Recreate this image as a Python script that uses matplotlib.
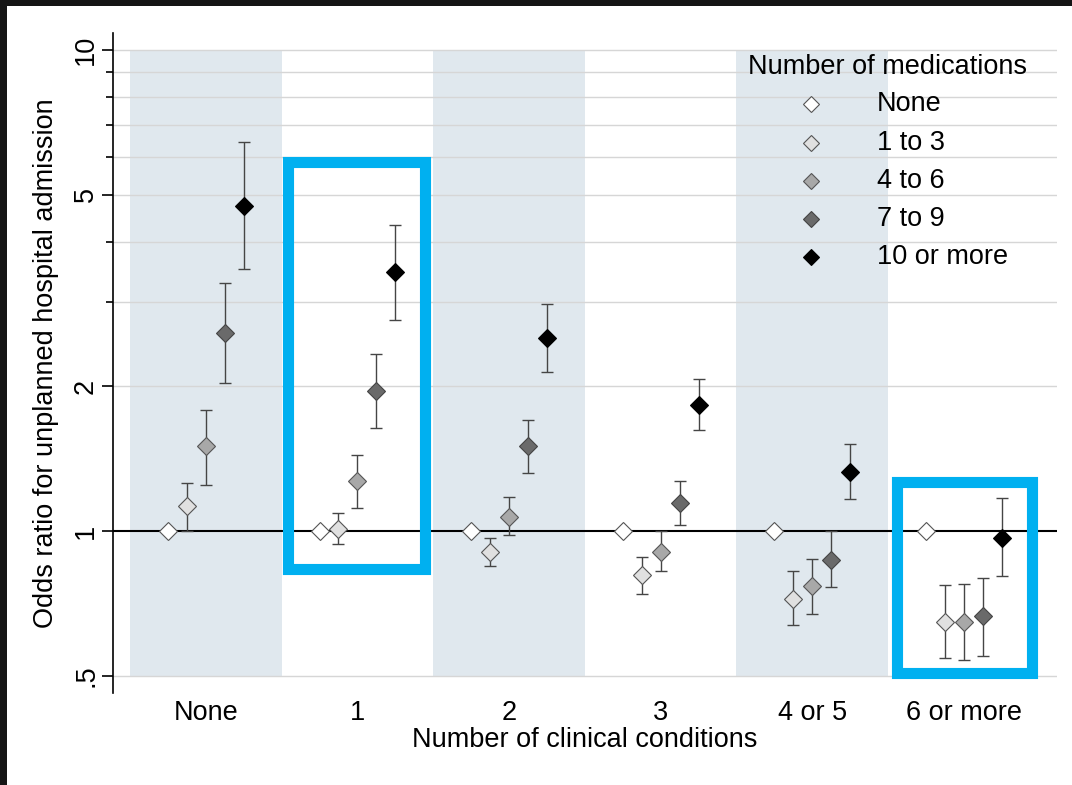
import matplotlib
matplotlib.use("Agg")
import matplotlib.pyplot as plt
from matplotlib.patches import Rectangle
from matplotlib.lines import Line2D
from matplotlib.ticker import FixedLocator, NullFormatter
import numpy as np

plt.rcParams['font.family'] = ['Liberation Sans', 'DejaVu Sans']

# ---- data ----
conditions = ["None", "1", "2", "3", "4 or 5", "6 or more"]
med_groups = ["None", "1 to 3", "4 to 6", "7 to 9", "10 or more"]

or_none = [1.0, 1.0, 1.0, 1.0, 1.0, 1.0]
lo_none = [1.0, 1.0, 1.0, 1.0, 1.0, 1.0]
hi_none = [1.0, 1.0, 1.0, 1.0, 1.0, 1.0]

or_1_3 = [1.13, 1.01, 0.906, 0.81, 0.722, 0.649]
lo_1_3 = [1.00, 0.94, 0.846, 0.742, 0.637, 0.545]
hi_1_3 = [1.26, 1.09, 0.966, 0.884, 0.826, 0.773]

or_4_6 = [1.50, 1.27, 1.07, 0.906, 0.768, 0.649]
lo_4_6 = [1.25, 1.12, 0.98, 0.826, 0.672, 0.541]
hi_4_6 = [1.79, 1.44, 1.175, 1.00, 0.876, 0.777]

or_7_9 = [2.58, 1.96, 1.50, 1.142, 0.873, 0.666]
lo_7_9 = [2.03, 1.64, 1.32, 1.03, 0.764, 0.55]
hi_7_9 = [3.28, 2.34, 1.70, 1.27, 1.00, 0.801]

or_10 = [4.74, 3.45, 2.52, 1.825, 1.33, 0.97]
lo_10 = [3.50, 2.75, 2.14, 1.62, 1.164, 0.806]
hi_10 = [6.44, 4.33, 2.96, 2.07, 1.517, 1.17]

y_ticks = [0.5, 1, 2, 5, 10]
y_tick_labels = [".5", "1", "2", "5", "10"]
y_minor = [3, 4, 6, 7, 8, 9]

series = [
    (or_none, lo_none, hi_none, "#ffffff", "#555555"),
    (or_1_3, lo_1_3, hi_1_3, "#e0e0e0", "#555555"),
    (or_4_6, lo_4_6, hi_4_6, "#a8a8a8", "#555555"),
    (or_7_9, lo_7_9, hi_7_9, "#6a6a6a", "#444444"),
    (or_10, lo_10, hi_10, "#000000", "#000000"),
]
offsets = [-0.25, -0.125, 0.0, 0.125, 0.25]

W, H = 1072, 785
fig = plt.figure(figsize=(W / 100, H / 100), dpi=100)
fig.patch.set_facecolor("#151515")
fig.patches.append(Rectangle((7 / W, 0), 1, (H - 6) / H, transform=fig.transFigure,
                             facecolor="white", edgecolor="none", zorder=-10))

def fx(px):
    return px / W

def fy(py):
    return 1 - py / H

ax = fig.add_axes([fx(113), fy(693), fx(1056.7) - fx(113), fy(33) - fy(693)])
ax.set_facecolor("none")
ax.set_yscale("log")
ax.set_xlim(-0.612, 5.612)
ax.set_ylim(0.461, 10.85)

x = np.arange(len(conditions))

# shaded bands
for i in range(0, len(conditions), 2):
    ax.fill_between([i - 0.5, i + 0.5], 0.5, 10, color="#e0e8ee", lw=0, zorder=0)

# grid
for g in y_ticks + y_minor:
    if g != 1:
        ax.axhline(g, color="#d6d6d6", lw=1.0, zorder=1)
ax.axhline(1, color="black", lw=1.5, zorder=2)

for (vals, lo, hi, fc, ec), off in zip(series, offsets):
    vals = np.array(vals); lo = np.array(lo); hi = np.array(hi)
    xs = x + off
    if not np.allclose(lo, hi):
        ax.errorbar(xs, vals, yerr=[vals - lo, hi - vals], fmt="none",
                    ecolor="#454545", elinewidth=1.0, capsize=4.5, capthick=1.0, zorder=3)
    ax.plot(xs, vals, linestyle="none", marker="D", markersize=9.3,
            markerfacecolor=fc, markeredgecolor=ec, markeredgewidth=0.8, zorder=4)

# axes styling
for s in ["top", "right", "bottom"]:
    ax.spines[s].set_visible(False)
ax.spines["left"].set_linewidth(1.2)
ax.set_yticks(y_ticks)
ax.set_yticklabels(y_tick_labels, rotation=90, va="center")
ax.yaxis.set_minor_locator(FixedLocator(y_minor))
ax.yaxis.set_minor_formatter(NullFormatter())
ax.tick_params(axis="y", which="major", length=8, width=1.2, labelsize=19.5, pad=2)
ax.tick_params(axis="y", which="minor", length=5, width=1.2)
ax.set_xticks(x)
ax.set_xticklabels(conditions)
ax.tick_params(axis="x", length=0, labelsize=19.5, pad=5)
ax.set_xlabel("Number of clinical conditions", fontsize=19.5, labelpad=1)
ax.set_ylabel("Odds ratio for unplanned hospital admission", fontsize=19.5, labelpad=10)

# highlight boxes
blue = "#00b0f0"
ax.add_patch(Rectangle((0.541, 0.836), 1.446 - 0.541, 5.84 - 0.836, fill=False,
                       edgecolor=blue, lw=8, zorder=6, clip_on=False, joinstyle="miter"))
ax.add_patch(Rectangle((4.561, 0.508), 5.446 - 4.561, 1.267 - 0.508, fill=False,
                       edgecolor=blue, lw=8, zorder=6, clip_on=False, joinstyle="miter"))

# legend (manual)
fig.text(fx(887), fy(67), "Number of medications", fontsize=19.5, ha="center", va="center")
leg_y = [104, 143, 181, 219, 257]
for (vals, lo, hi, fc, ec), lab, yy in zip(series, med_groups, leg_y):
    fig.add_artist(Line2D([fx(811)], [fy(yy)], linestyle="none", marker="D", markersize=8,
                          markerfacecolor=fc, markeredgecolor=ec, markeredgewidth=0.8,
                          transform=fig.transFigure))
    fig.text(fx(877), fy(yy), lab, fontsize=19.5, ha="left", va="center")

fig.savefig("out.png", dpi=100, facecolor=fig.get_facecolor())
